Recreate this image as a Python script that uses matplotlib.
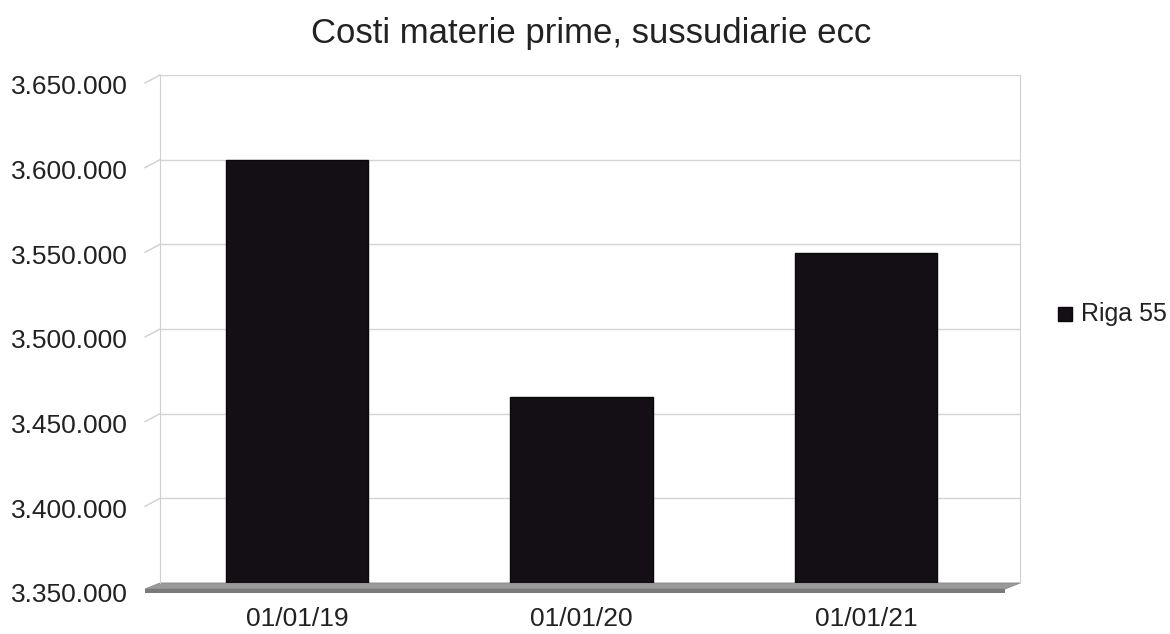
import numpy as np
import matplotlib
matplotlib.use("Agg")
import matplotlib.pyplot as plt
import matplotlib.transforms as mtransforms
from matplotlib.patches import Polygon
from matplotlib.ticker import FuncFormatter

# -----------------------------
# Data
# -----------------------------
categories = ["01/01/19", "01/01/20", "01/01/21"]
values = [3600000, 3460000, 3545000]
series_name = "Riga 55"
title = "Costi materie prime, sussudiarie ecc"
y_min, y_max, y_step = 3350000, 3650000, 50000

plt.rcParams["font.family"] = ["Liberation Sans", "DejaVu Sans"]

DPI = 100
fig = plt.figure(figsize=(11.7, 6.34), dpi=DPI)
W, H = 1170, 634
ax = fig.add_axes([160 / W, (H - 583) / H, 860 / W, 508 / H])

x = np.arange(len(categories))
ax.bar(x, [v - y_min for v in values], bottom=y_min, width=0.5,
       color="#140f15", edgecolor="#0a070b", linewidth=1.0, zorder=3)

ax.set_xlim(-0.4816, 2.541)
ax.set_ylim(y_min, y_max)

yt = np.arange(y_min, y_max + 1, y_step)
ax.set_yticks(yt)
ax.yaxis.set_major_formatter(FuncFormatter(lambda v, _: f"{int(v):,}".replace(",", ".")))
ax.set_xticks(x)
ax.set_xticklabels(categories)
ax.tick_params(axis="y", length=0, pad=23, labelsize=19, labelcolor="#222222")
ax.tick_params(axis="x", length=0, pad=17, labelsize=19, labelcolor="#222222")

# perspective offset for y labels
shift = mtransforms.ScaledTranslation(0, -10 / DPI, fig.dpi_scale_trans)
for lbl in ax.get_yticklabels():
    lbl.set_transform(lbl.get_transform() + shift)

ax.grid(axis="y", color="#d4d4d4", linewidth=1.0, zorder=0)
for s in ["top", "bottom"]:
    ax.spines[s].set_visible(False)
for s in ["left", "right"]:
    ax.spines[s].set_color("#d0d0d0")

# side wall slanted grid lines
trans = ax.get_yaxis_transform()
off = mtransforms.ScaledTranslation(-15 / DPI, -8 / DPI, fig.dpi_scale_trans)
for v in yt[1:]:
    p0 = trans.transform((0, v))
    p1 = (trans + off).transform((0, v))
    ax.plot([p0[0], p1[0]], [p0[1], p1[1]], color="#cfcfcf", lw=1,
            transform=None, clip_on=False)

# floor slab (top face + front face)
top_face = Polygon([(-15 / 860, -6 / 508), (845 / 860, -6 / 508),
                    (1.0, 0.0), (0.0, 0.0)],
                   closed=True, transform=ax.transAxes, facecolor="#9a9a9a",
                   edgecolor="#8a8a8a", linewidth=0.6, clip_on=False, zorder=2)
front_face = Polygon([(-15 / 860, -6 / 508), (845 / 860, -6 / 508),
                      (845 / 860, -10 / 508), (-15 / 860, -10 / 508)],
                     closed=True, transform=ax.transAxes, facecolor="#7a7a7a",
                     edgecolor="none", clip_on=False, zorder=2)
ax.add_patch(top_face)
ax.add_patch(front_face)

fig.text(591 / W, 1 - 33 / H, title, ha="center", va="center", fontsize=25, color="#222222")

# legend
fig.patches.append(plt.Rectangle((1058 / W, 1 - 321 / H), 14 / W, 14 / H,
                                 transform=fig.transFigure, facecolor="#140f15",
                                 edgecolor="#0a070b"))
fig.text(1081 / W, 1 - 314 / H, series_name, ha="left", va="center", fontsize=18, color="#222222")

fig.savefig("out.png", dpi=DPI)
